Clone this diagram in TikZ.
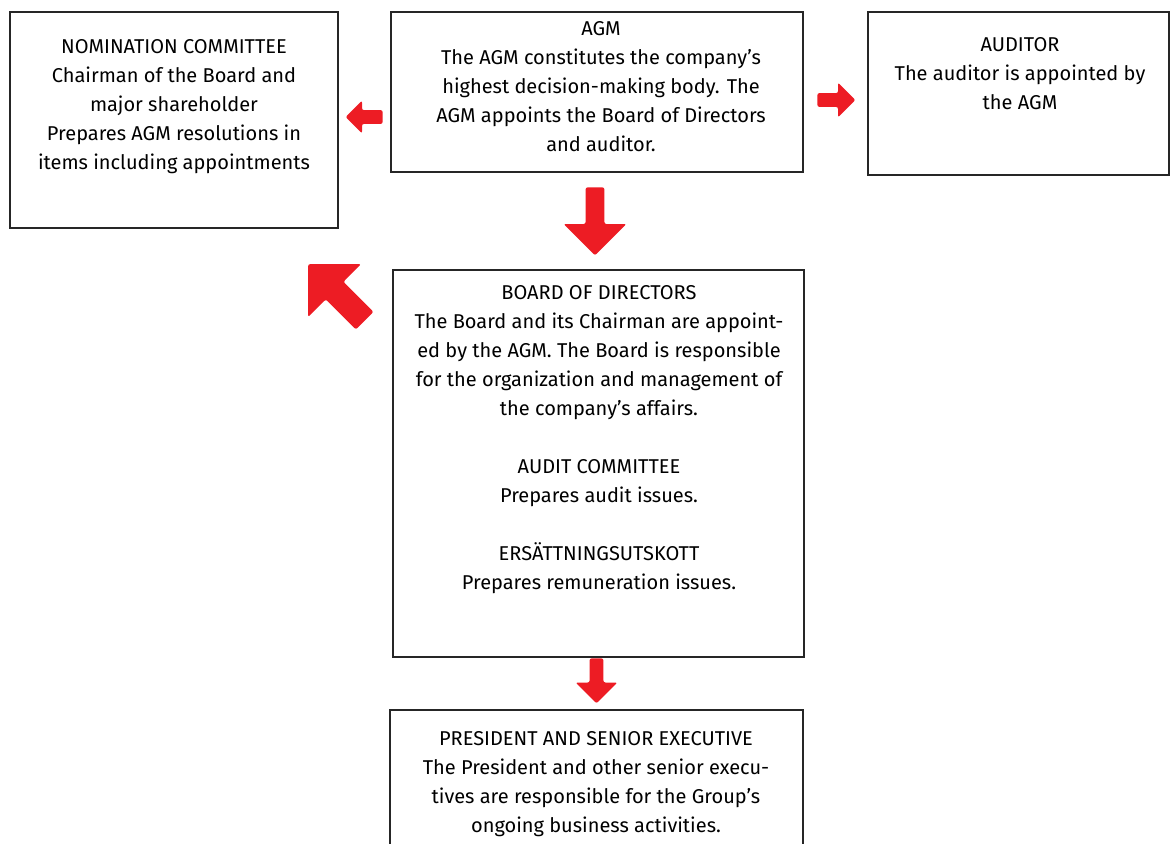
\documentclass[tikz,border=0pt]{standalone}
\usepackage{fontspec}
\setmainfont{Fira Sans}
\usetikzlibrary{positioning,shapes.arrows}

\definecolor{arrowred}{HTML}{ED1C24}

\begin{document}
\begin{tikzpicture}[
            x=0.5pt, y=-0.5pt,
            box/.style={rectangle, draw=black!85, line width=0.6pt, inner sep=0pt},
            txt/.style={align=center, anchor=north, inner sep=0pt,
                        font=\fontsize{10}{14.5}\selectfont},
            blockarrow/.style={single arrow, fill=arrowred, draw=none, anchor=tail,
                        inner xsep=0pt, single arrow head indent=0pt, rounded corners=1pt}
        ]
        \useasboundingbox (0,0) rectangle (1170,843);
        \clip (0,0) rectangle (1170,843);

        % boxes
        \node[box, minimum width=164pt, minimum height=108pt] (nom) at (174,120) {};
        \node[box, minimum width=206pt, minimum height=80pt] (agm) at (597,92) {};
        \node[box, minimum width=150.5pt, minimum height=81.5pt] (aud) at (1018.5,93.5) {};
        \node[box, minimum width=205.5pt, minimum height=193.5pt] (board) at (598.5,463.5) {};
        \node[box, minimum width=206.5pt, minimum height=80pt] (pres) at (596.5,790) {};

        % texts
        \node[txt] (nomtxt) at (174,39) {NOMINATION COMMITTEE\\ Chairman of the Board and\\ major shareholder\\ Prepares AGM resolutions in\\ items including appointments};
        \node[txt] (agmtxt) at (601,21) {AGM\\ The AGM constitutes the company’s\\ highest decision-making body. The\\ AGM appoints the Board of Directors\\ and auditor.};
        \node[txt] (audtxt) at (1020,37) {AUDITOR\\ The auditor is appointed by\\ the AGM};
        \node[txt] (boardtxt) at (599,285) {BOARD OF DIRECTORS\\ The Board and its Chairman are appoint-\\ ed by the AGM. The Board is responsible\\ for the organization and management of\\ the company’s affairs.\\[14.5pt]
            AUDIT COMMITTEE\\ Prepares audit issues.\\[14.5pt]
            ERSÄTTNINGSUTSKOTT\\ Prepares remuneration issues.};
        \node[txt] (prestxt) at (596,731) {PRESIDENT AND SENIOR EXECUTIVE\\ The President and other senior execu-\\ tives are responsible for the Group’s\\ ongoing business activities.};

        % arrows
        \node[blockarrow, rotate=180, minimum height=18.5pt, minimum width=16pt,
              inner ysep=3.25pt, single arrow head extend=4.75pt] (toNom) at (383,117) {};
        \node[blockarrow, minimum height=19pt, minimum width=17pt,
              inner ysep=3.25pt, single arrow head extend=5.25pt] (toAud) at (817,100) {};
        \node[blockarrow, rotate=-90, minimum height=34pt, minimum width=31pt,
              inner ysep=4.5pt, single arrow head extend=11pt] (toBoard) at (595,187) {};
        \node[blockarrow, rotate=135, minimum height=40pt, minimum width=37pt,
              inner ysep=6pt, single arrow head extend=12.5pt] (toNomDiag) at (365,321) {};
        \node[blockarrow, rotate=-90, minimum height=22.5pt, minimum width=20.5pt,
              inner ysep=3.25pt, single arrow head extend=7pt] (toPres) at (596.5,658) {};
        \end{tikzpicture}
\end{document}
